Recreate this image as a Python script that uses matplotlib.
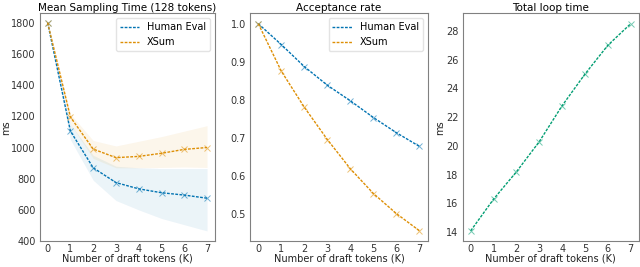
import matplotlib
matplotlib.use("Agg")
import matplotlib.pyplot as plt
from matplotlib.colors import to_rgba

k = [0, 1, 2, 3, 4, 5, 6, 7]

# mean sampling time (ms)
human_time = [1800, 1105, 870, 775, 735, 710, 695, 675]
human_low = [1800, 1050, 790, 660, 600, 545, 505, 465]
human_high = [1800, 1150, 950, 880, 870, 865, 865, 865]
xsum_time = [1800, 1195, 990, 935, 943, 963, 988, 1000]
xsum_low = [1800, 1150, 930, 870, 870, 872, 875, 872]
xsum_high = [1800, 1215, 1045, 1010, 1040, 1070, 1105, 1140]

# acceptance rate
human_acc = [1.0, 0.945, 0.887, 0.838, 0.797, 0.753, 0.713, 0.677]
xsum_acc = [1.0, 0.875, 0.780, 0.695, 0.618, 0.553, 0.500, 0.455]

# total loop time (ms)
loop_time = [14.1, 16.3, 18.2, 20.3, 22.8, 25.0, 27.0, 28.5]

blue = "#0173b2"
orange = "#de8f05"
green = "#029e73"

plt.rcParams["font.size"] = 7
plt.rcParams["axes.edgecolor"] = "#808080"
plt.rcParams["xtick.color"] = "#333333"
plt.rcParams["ytick.color"] = "#333333"
plt.rcParams["axes.labelcolor"] = "#222222"

fig = plt.figure(figsize=(6.4, 2.67), dpi=100)
ax1 = fig.add_axes([0.062, 0.097, 0.274, 0.853])
ax2 = fig.add_axes([0.391, 0.097, 0.277, 0.853])
ax3 = fig.add_axes([0.723, 0.097, 0.275, 0.853])


def dashed(ax, y, c, label=None):
    ax.plot(k, y, color=c, label=label, linestyle=(0, (2, 1)), linewidth=1.0,
            marker="x", markersize=4, markeredgewidth=0.7,
            markeredgecolor=to_rgba(c, 0.55))


ax1.fill_between(k, human_low, human_high, color=blue, alpha=0.08, linewidth=0)
ax1.fill_between(k, xsum_low, xsum_high, color=orange, alpha=0.08, linewidth=0)
dashed(ax1, human_time, blue, "Human Eval")
dashed(ax1, xsum_time, orange, "XSum")
ax1.set_ylim(400, 1860)
ax1.set_title("Mean Sampling Time (128 tokens)", pad=2, fontsize=7.5)
ax1.set_ylabel("ms", labelpad=0)

dashed(ax2, human_acc, blue, "Human Eval")
dashed(ax2, xsum_acc, orange, "XSum")
ax2.set_title("Acceptance rate", pad=2, fontsize=7.5)

dashed(ax3, loop_time, green)
ax3.set_title("Total loop time", pad=2, fontsize=7.5)
ax3.set_ylabel("ms", labelpad=1)

for ax in (ax1, ax2):
    ax.legend(loc="upper right", frameon=True, edgecolor="#dddddd", fancybox=True,
              handlelength=2.0, markerscale=0)

for ax in (ax1, ax2, ax3):
    ax.set_xticks(k)
    ax.set_xlabel("Number of draft tokens (K)", labelpad=0)
    ax.tick_params(axis="x", length=0, pad=2)
    ax.tick_params(axis="y", length=0, pad=3)
    for s in ax.spines.values():
        s.set_linewidth(0.8)

fig.savefig("out.png", dpi=100)
